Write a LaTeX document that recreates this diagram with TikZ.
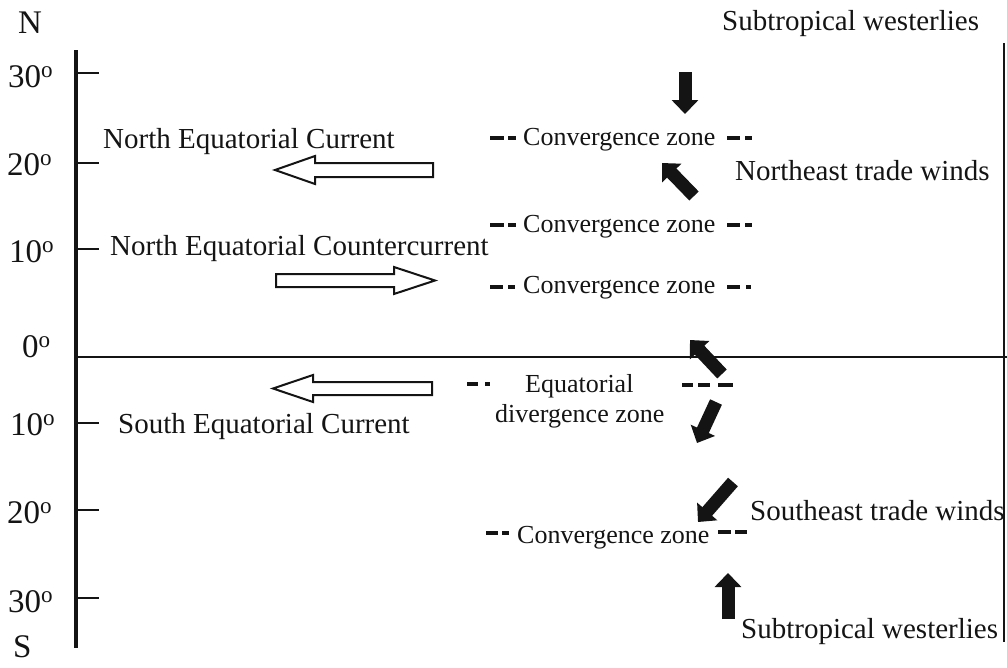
\documentclass[tikz,border=0pt]{standalone}
\usepackage{fontspec}
\setmainfont{Liberation Serif}
\usetikzlibrary{arrows.meta}
\definecolor{ink}{RGB}{20,20,20}
\tikzset{
  big/.style={font=\fontsize{29}{34}\selectfont, inner sep=0pt, anchor=base west, text=ink},
  small/.style={font=\fontsize{26}{30}\selectfont, inner sep=0pt, anchor=base west, text=ink},
  axlab/.style={font=\fontsize{33}{38}\selectfont, inner sep=0pt, anchor=base west, text=ink},
  wind/.style={draw=ink, line width=13pt, -{Triangle[width=26pt,length=14pt]}},
  current/.style={draw=ink, line width=2pt, fill=white, line join=miter},
  zdash/.style={draw=ink, line width=3.5pt},
  axisline/.style={draw=ink, line width=3.5pt},
  thinline/.style={draw=ink, line width=2.5pt},
}
\begin{document}
\begin{tikzpicture}[x=1pt, y=-1pt]
\useasboundingbox (0,0) rectangle (1007,667);

% axis
\coordinate (axT) at (76,50);
\coordinate (axB) at (76,648);
\draw[axisline] (axT) -- (axB);
\foreach \yy in {73,163,249,423,510,598}{
  \draw[thinline] (76,\yy) -- (99,\yy);
}
\coordinate (eqL) at (76,357);
\coordinate (eqR) at (1007,357);
\draw[thinline] (eqL) -- (eqR);
\coordinate (rT) at (1004,43);
\coordinate (rB) at (1004,642);
\draw[thinline] (rT) -- (rB);

% axis labels
\node[axlab] (lN) at (18,33) {N};
\node[axlab] (l30n) at (8,87) {30\textsuperscript{o}};
\node[axlab] (l20n) at (7,175) {20\textsuperscript{o}};
\node[axlab] (l10n) at (9,262) {10\textsuperscript{o}};
\node[axlab] (l0) at (22,357) {0\textsuperscript{o}};
\node[axlab] (l10s) at (10,435) {10\textsuperscript{o}};
\node[axlab] (l20s) at (7,523) {20\textsuperscript{o}};
\node[axlab] (l30s) at (8,612) {30\textsuperscript{o}};
\node[axlab] (lS) at (13,657) {S};

% current labels
\node[big] (nec) at (103,148) {North Equatorial Current};
\node[big] (necc) at (110,255) {North Equatorial Countercurrent};
\node[big] (sec) at (118,433) {South Equatorial Current};

% wind labels
\node[big] (stw1) at (722,30) {Subtropical westerlies};
\node[big] (net) at (735,180) {Northeast trade winds};
\node[big] (set) at (750,520) {Southeast trade winds};
\node[big] (stw2) at (741,638) {Subtropical westerlies};

% current arrows (hollow)
\draw[current] (433,163) -- (315,163) -- (315,156) -- (275,170) -- (315,184) -- (315,177) -- (433,177) -- cycle;
\draw[current] (276,274) -- (394,274) -- (394,267) -- (435,280.5) -- (394,294) -- (394,287) -- (276,287) -- cycle;
\draw[current] (432,382) -- (313,382) -- (313,375) -- (273,388.5) -- (313,402) -- (313,395) -- (432,395) -- cycle;

% convergence zones
\node[small] (cz1) at (523,145) {Convergence zone};
\node[small] (cz2) at (523,232) {Convergence zone};
\node[small] (cz3) at (523,293) {Convergence zone};
\node[small] (cz4) at (517,543) {Convergence zone};
\node[small] (eq1) at (525,392) {Equatorial};
\node[small] (eq2) at (495,422) {divergence zone};

\foreach \yy in {138,225}{
  \draw[zdash] (490,\yy) -- (504,\yy);
  \draw[zdash] (508,\yy) -- (516,\yy);
  \draw[zdash] (727,\yy) -- (740,\yy);
  \draw[zdash] (745,\yy) -- (752,\yy);
}
\draw[zdash] (490,287) -- (503,287);
\draw[zdash] (508,287) -- (515,287);
\draw[zdash] (727,287) -- (740,287);
\draw[zdash] (746,287) -- (751,287);

\draw[zdash] (467,384) -- (478,384);
\draw[zdash] (485,384) -- (490,384);
\draw[zdash] (682,385) -- (693,385);
\draw[zdash] (698,385) -- (710,385);
\draw[zdash] (718,385) -- (733,385);

\draw[zdash] (486,533) -- (498,533);
\draw[zdash] (502,533) -- (509,533);
\draw[zdash] (718,532) -- (731,532);
\draw[zdash] (735,532) -- (747,532);

% wind arrows (solid)
\coordinate (w1a) at (685,72);  \coordinate (w1b) at (685,114);
\coordinate (w2a) at (694,196); \coordinate (w2b) at (662,163);
\coordinate (w3a) at (722,374); \coordinate (w3b) at (690,340);
\coordinate (w4a) at (716,402); \coordinate (w4b) at (697,443);
\coordinate (w5a) at (733,482); \coordinate (w5b) at (698,522);
\coordinate (w6a) at (728,619); \coordinate (w6b) at (728,573);
\draw[wind] (w1a) -- (w1b);
\draw[wind] (w2a) -- (w2b);
\draw[wind] (w3a) -- (w3b);
\draw[wind] (w4a) -- (w4b);
\draw[wind] (w5a) -- (w5b);
\draw[wind] (w6a) -- (w6b);
\end{tikzpicture}
\end{document}
